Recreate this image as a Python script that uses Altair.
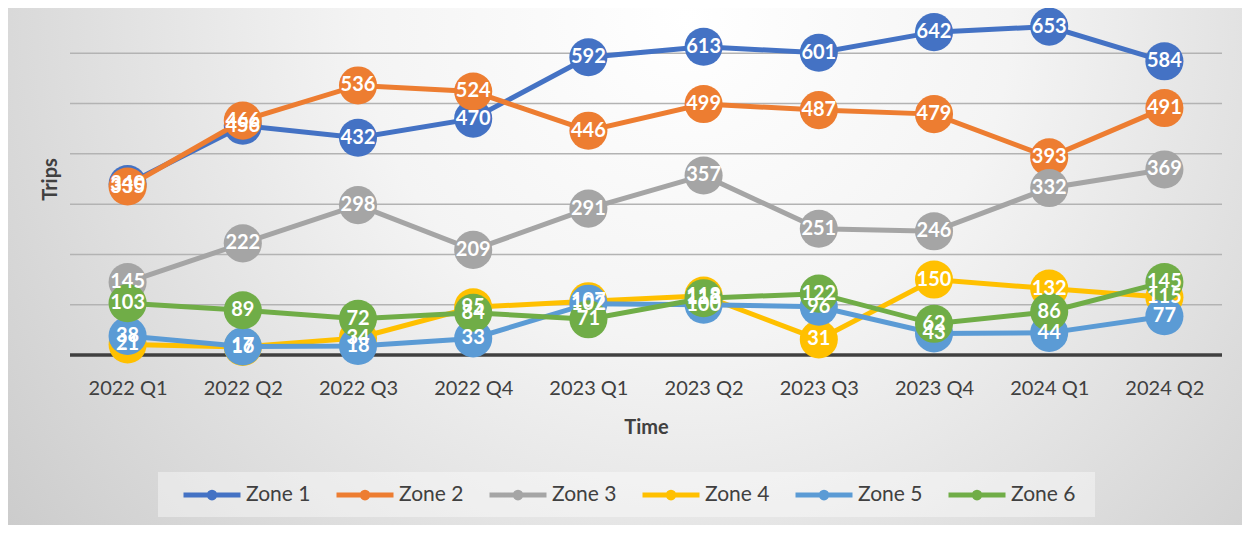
import altair as alt
import pandas as pd

quarters = ["2022 Q1", "2022 Q2", "2022 Q3", "2022 Q4", "2023 Q1",
            "2023 Q2", "2023 Q3", "2023 Q4", "2024 Q1", "2024 Q2"]
zones = ["Zone 1", "Zone 2", "Zone 3", "Zone 4", "Zone 5", "Zone 6"]
zone1 = [340, 456, 432, 470, 592, 613, 601, 642, 653, 584]
zone2 = [335, 466, 536, 524, 446, 499, 487, 479, 393, 491]
zone3 = [145, 222, 298, 209, 291, 357, 251, 246, 332, 369]
zone4 = [21, 16, 34, 95, 107, 118, 31, 150, 132, 115]
zone5 = [38, 17, 18, 33, 102, 100, 96, 43, 44, 77]
zone6 = [103, 89, 72, 84, 71, 113, 122, 62, 86, 145]
colors = ["#4472C4", "#ED7D31", "#A5A5A5", "#FFC000", "#5B9BD5", "#70AD47"]
grid_values = [100, 200, 300, 400, 500, 600, 700]

series = [zone1, zone2, zone3, zone4, zone5, zone6]
rows = []
for zi, (z, vals) in enumerate(zip(zones, series)):
    for q, v in zip(quarters, vals):
        rows.append({"Time": q, "Zone": z, "Trips": v, "order": zi})
df = pd.DataFrame(rows)

FONT = "Lato"
W, H = 1152, 347
y_scale = alt.Scale(domain=[0, 690], nice=False, zero=True)

x_axis = alt.Axis(title="Time", labelAngle=0, ticks=False, domain=False,
                  labelPadding=23, labelFontSize=20, labelFont=FONT,
                  labelColor="#404040", titleFont=FONT, titleFontSize=20,
                  titleFontWeight="bold", titleColor="#404040",
                  titleY=72, titleBaseline="middle", grid=False, zindex=1)
y_axis = alt.Axis(title="Trips", labels=False, ticks=False, domain=False,
                  grid=False, zindex=1,
                  titleFont=FONT, titleFontSize=20, titleFontWeight="bold",
                  titleColor="#404040", titleAngle=270, titleX=-20,
                  titleY=171, titleAlign="center", titleBaseline="middle")

x_enc = alt.X("Time:N", sort=quarters,
              scale=alt.Scale(domain=quarters, type="point", padding=0.5), axis=x_axis)
y_enc = alt.Y("Trips:Q", scale=y_scale, axis=y_axis)

legend = alt.Legend(
    title=None, orient="none", legendX=111, legendY=456, direction="horizontal",
    columns=6, symbolType="M-1,0L1,0M-0.1,0A0.1,0.1,0,1,1,0.1,0A0.1,0.1,0,1,1,-0.1,0",
    symbolSize=3249, symbolStrokeWidth=5, labelFont=FONT, labelFontSize=21,
    labelColor="#404040", labelOffset=3, columnPadding=15, padding=0, symbolOpacity=1)
color_line = alt.Color("Zone:N", scale=alt.Scale(domain=zones, range=colors), legend=legend)
color_pt = alt.Color("Zone:N", scale=alt.Scale(domain=zones, range=colors), legend=None)

one = pd.DataFrame({"k": [0]})
bg = alt.Chart(one).mark_rect(
    fill=alt.RadialGradient(
        gradient="radial",
        stops=[alt.GradientStop(color="#ffffff", offset=0),
               alt.GradientStop(color="#f4f4f4", offset=0.35),
               alt.GradientStop(color="#c6c6c6", offset=1)],
        x1=0.55, y1=0.3, r1=0, x2=0.55, y2=0.3, r2=0.75)
).encode(x=alt.value(-62), x2=alt.value(1172), y=alt.value(-8), y2=alt.value(520))

legend_box = alt.Chart(one).mark_rect(fill="#ffffff", opacity=0.4).encode(
    x=alt.value(88), x2=alt.value(1025), y=alt.value(464), y2=alt.value(509))

grid = alt.Chart(pd.DataFrame({"Trips": grid_values})).mark_rule(
    color="#b3b3b3", strokeWidth=1.5, clip=False).encode(y=y_enc)
baseline = alt.Chart(pd.DataFrame({"Trips": [0]})).mark_rule(
    color="#404040", strokeWidth=3.5).encode(y=y_enc)

base = alt.Chart(df)
layers = [bg, legend_box, grid, baseline]
for z in zones:
    sub = base.transform_filter(alt.datum.Zone == z)
    layers.append(sub.mark_line(strokeWidth=5).encode(x=x_enc, y=y_enc, color=color_line))
    layers.append(sub.mark_circle(size=1450, opacity=1).encode(x=x_enc, y=y_enc, color=color_pt))

labels = base.mark_text(font=FONT, fontSize=20, fontWeight="bold", color="white",
                        align="center", baseline="middle").encode(
    x=x_enc, y=y_enc, text=alt.Text("Trips:Q"), order=alt.Order("order:Q"))
layers.append(labels)

chart = alt.layer(*layers).properties(
    width=W, height=H,
    autosize=alt.AutoSizeParams(type="none"),
    padding={"left": 62, "top": 0, "right": 20, "bottom": 170},
).configure_view(stroke=None).configure(background="#d4d4d4")

chart.save("out.html", embed_options={"renderer": "svg", "actions": False})
